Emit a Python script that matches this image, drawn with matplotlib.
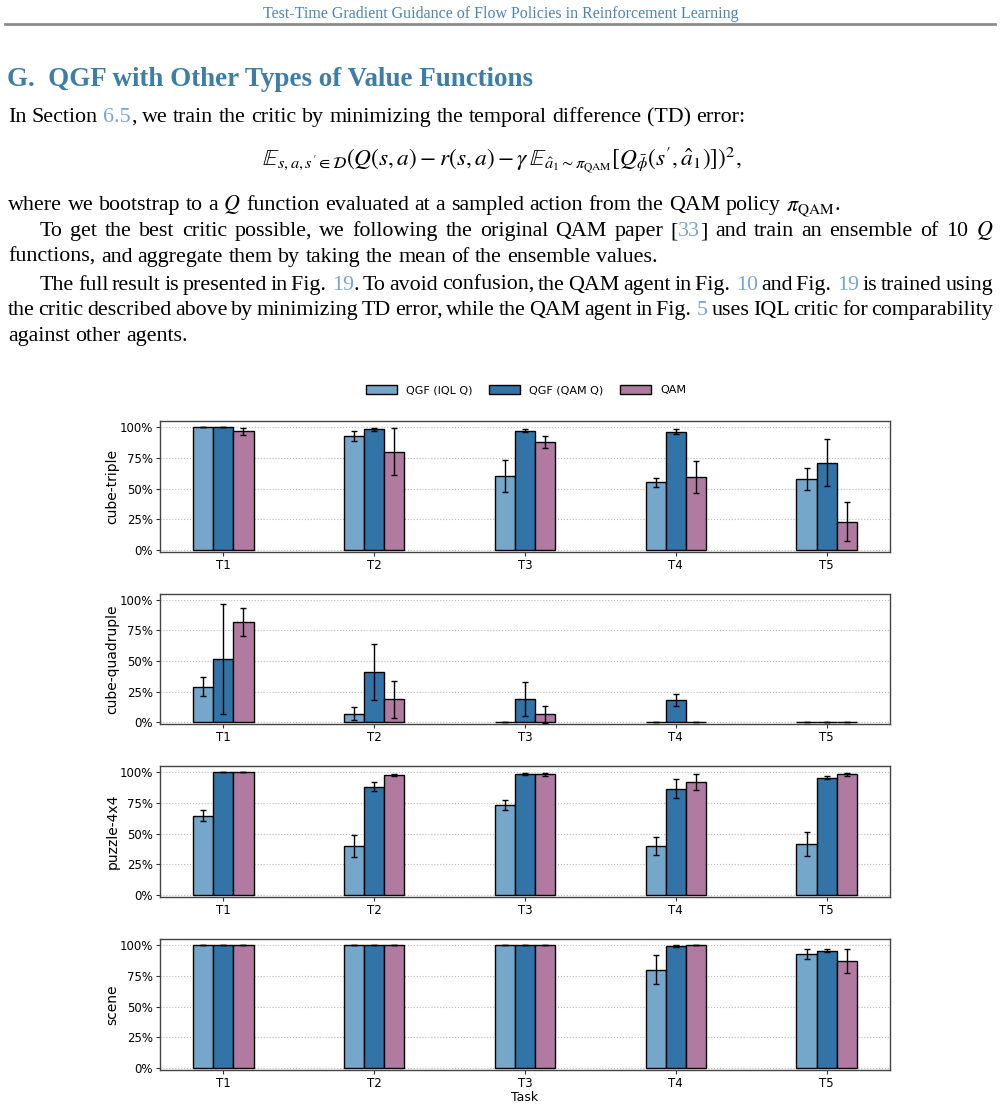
import numpy as np
import matplotlib
matplotlib.use("Agg")
import matplotlib.pyplot as plt
from matplotlib.lines import Line2D
from matplotlib.patches import Patch
from matplotlib.ticker import PercentFormatter

plt.rcParams['mathtext.fontset'] = 'stix'

# ---- data (success rates) ----
tasks = ['T1', 'T2', 'T3', 'T4', 'T5']
envs = ['cube-triple', 'cube-quadruple', 'puzzle-4x4', 'scene']
methods = ['QGF (IQL Q)', 'QGF (QAM Q)', 'QAM']
colors = ['#74a7ca', '#3273a8', '#b17aa0']

iql_mean = {
    'cube-triple':    [1.00, 0.93, 0.60, 0.55, 0.58],
    'cube-quadruple': [0.29, 0.07, 0.00, 0.00, 0.00],
    'puzzle-4x4':     [0.645, 0.40, 0.73, 0.40, 0.415],
    'scene':          [1.00, 1.00, 1.00, 0.80, 0.93],
}
iql_err = {
    'cube-triple':    [0.00, 0.04, 0.13, 0.035, 0.09],
    'cube-quadruple': [0.075, 0.05, 0.00, 0.00, 0.00],
    'puzzle-4x4':     [0.045, 0.09, 0.04, 0.075, 0.095],
    'scene':          [0.00, 0.00, 0.00, 0.12, 0.04],
}
qamq_mean = {
    'cube-triple':    [1.00, 0.98, 0.97, 0.96, 0.71],
    'cube-quadruple': [0.52, 0.41, 0.19, 0.18, 0.00],
    'puzzle-4x4':     [1.00, 0.88, 0.985, 0.865, 0.955],
    'scene':          [1.00, 1.00, 1.00, 0.99, 0.955],
}
qamq_err = {
    'cube-triple':    [0.00, 0.01, 0.01, 0.02, 0.19],
    'cube-quadruple': [0.45, 0.23, 0.14, 0.05, 0.00],
    'puzzle-4x4':     [0.00, 0.035, 0.01, 0.08, 0.015],
    'scene':          [0.00, 0.00, 0.00, 0.01, 0.015],
}
qam_mean = {
    'cube-triple':    [0.965, 0.80, 0.88, 0.59, 0.23],
    'cube-quadruple': [0.82, 0.185, 0.065, 0.00, 0.00],
    'puzzle-4x4':     [1.00, 0.975, 0.98, 0.92, 0.98],
    'scene':          [1.00, 1.00, 1.00, 1.00, 0.87],
}
qam_err = {
    'cube-triple':    [0.03, 0.19, 0.05, 0.13, 0.16],
    'cube-quadruple': [0.115, 0.155, 0.07, 0.00, 0.00],
    'puzzle-4x4':     [0.00, 0.01, 0.01, 0.065, 0.01],
    'scene':          [0.00, 0.00, 0.00, 0.00, 0.10],
}
means = [iql_mean, qamq_mean, qam_mean]
errs = [iql_err, qamq_err, qam_err]

W, H = 1001, 1104
fig = plt.figure(figsize=(W / 100, H / 100), dpi=100)
renderer = fig.canvas.get_renderer()

BLUE = '#3e7ea6'
LINK = '#7aa6cc'
SERIF = 'Liberation Serif'


def fx(px):
    return px / W


def fy(py):
    return 1 - py / H


def width_of(s, **kw):
    t = fig.text(0, 0, s, **kw)
    w = t.get_window_extent(renderer).width
    t.remove()
    return w


def fit_size(s, target, **kw):
    return 10 * target / width_of(s, fontsize=10, **kw)


# ---- page header ----
head = 'Test-Time Gradient Guidance of Flow Policies in Reinforcement Learning'
fig.text(fx(501), fy(18), head, family=SERIF, color='#4d86ad',
         fontsize=fit_size(head, 476, family=SERIF), ha='center', va='baseline')
fig.add_artist(Line2D([fx(5), fx(995)], [fy(24), fy(24)], color='#8c8c8c', lw=2))

# ---- section title ----
title = 'G.  QGF with Other Types of Value Functions'
fig.text(fx(7), fy(86), title, family=SERIF, weight='bold', color=BLUE,
         fontsize=fit_size(title, 527, family=SERIF, weight='bold'), va='baseline')

# ---- body text ----
first = 'In Section 6.5, we train the critic by minimizing the temporal difference (TD) error:'
body = fit_size(first, 737, family=SERIF)


def seg_w(s):
    return width_of(s, family=SERIF, fontsize=body)


def draw_line(words, x0, y, x1=None):
    toks = []
    for w in words:
        segs = w if isinstance(w, list) else [(w, 'k')]
        toks.append((segs, sum(seg_w(s) for s, _ in segs)))
    total = sum(t[1] for t in toks)
    if x1 is not None and len(toks) > 1:
        gap = (x1 - x0 - total) / (len(toks) - 1)
    else:
        gap = seg_w('a a') - seg_w('aa')
    x = x0
    for segs, tw in toks:
        for s, c in segs:
            fig.text(fx(x), fy(y), s, family=SERIF, fontsize=body, color=c, va='baseline')
            x += seg_w(s)
        x += gap


draw_line(['In', 'Section', [('6.5', LINK), (',', 'k')]] +
          'we train the critic by minimizing the temporal difference (TD) error:'.split(), 8, 122)

eq = (r"$\mathbb{E}_{s,a,s'\in\mathcal{D}}(Q(s,a)-r(s,a)-\gamma\,"
      r"\mathbb{E}_{\hat{a}_1\sim\pi_{\mathrm{QAM}}}[Q_{\bar{\phi}}(s',\hat{a}_1)])^2,$")
fig.text(fx(502), fy(166), eq, fontsize=fit_size(eq, 481), ha='center', va='baseline')

draw_line('where we bootstrap to a'.split() + ['$Q$'] +
          'function evaluated at a sampled action from the QAM policy'.split() +
          [[(r'$\pi_{\mathrm{QAM}}$', 'k'), ('.', 'k')]], 8, 210)
draw_line('To get the best critic possible, we following the original QAM paper'.split() +
          [[('[', 'k'), ('33', LINK), (']', 'k')]] +
          'and train an ensemble of 10'.split() + ['$Q$'], 40, 236, 993)
draw_line('functions, and aggregate them by taking the mean of the ensemble values.'.split(), 8, 262)
draw_line('The full result is presented in'.split() + [[('Fig. ', 'k'), ('19', LINK), ('.', 'k')]] +
          'To avoid confusion, the QAM agent in'.split() + [[('Fig. ', 'k'), ('10', LINK)]] +
          ['and', [('Fig. ', 'k'), ('19', LINK)]] + 'is trained using'.split(), 40, 290, 993)
draw_line('the critic described above by minimizing TD error, while the QAM agent in'.split() +
          [[('Fig. ', 'k'), ('5', LINK)]] + 'uses IQL critic for comparability'.split(), 8, 315, 993)
draw_line('against other agents.'.split(), 8, 341)

# ---- chart ----
x = np.arange(len(tasks))
bw = 0.4 / 3
panels = [(421, 552), (594, 724), (766, 897), (939, 1070)]
L, R = 160, 890
for env, (top, bot) in zip(envs, panels):
    ax = fig.add_axes([fx(L), fy(bot), fx(R) - fx(L), (bot - top) / H])
    for i in range(3):
        ax.bar(x + (i - 1) * bw, means[i][env], bw, yerr=errs[i][env], color=colors[i],
               edgecolor='black', linewidth=1, zorder=3, label=methods[i],
               error_kw=dict(ecolor='black', elinewidth=1, capsize=2.5, capthick=1, zorder=4))
    ax.set_ylim(-0.016, 1.049)
    ax.set_xlim(-0.42, 4.42)
    ax.set_yticks([0, 0.25, 0.5, 0.75, 1.0])
    ax.yaxis.set_major_formatter(PercentFormatter(1.0, decimals=0))
    ax.set_xticks(x)
    ax.set_xticklabels(tasks)
    ax.tick_params(labelsize=8.5, length=3, pad=2, color='#333333')
    ax.grid(axis='y', linestyle=':', color='#bbbbbb', linewidth=0.8, zorder=0)
    ax.set_ylabel(env, fontsize=10, labelpad=0)
    for sp in ax.spines.values():
        sp.set_color('#444444')
        sp.set_linewidth(1.0)
    if env == 'scene':
        ax.set_xlabel('Task', fontsize=9, labelpad=1)

handles = [Patch(facecolor=c, edgecolor='black', linewidth=1) for c in colors]
fig.legend(handles, methods, loc='center', bbox_to_anchor=(fx(526), fy(390)), ncol=3,
           frameon=False, fontsize=8, handlelength=2.8, handleheight=0.9,
           handletextpad=0.8, columnspacing=1.5)

fig.savefig('out.png', dpi=100)
